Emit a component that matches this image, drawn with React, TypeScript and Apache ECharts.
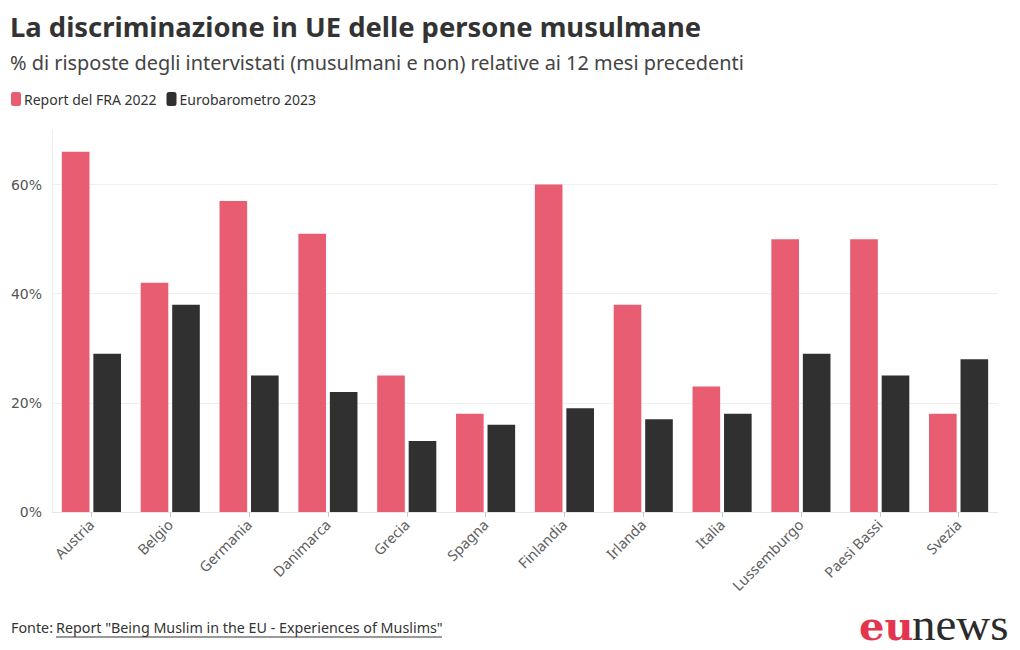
import React, { useEffect, useRef } from "react";
import * as echarts from "echarts";

const categories = ["Austria", "Belgio", "Germania", "Danimarca", "Grecia", "Spagna", "Finlandia", "Irlanda", "Italia", "Lussemburgo", "Paesi Bassi", "Svezia"];
const fra2022 = [66, 42, 57, 51, 25, 18, 60, 38, 23, 50, 50, 18];
const euro2023 = [29, 38, 25, 22, 13, 16, 19, 17, 18, 29, 25, 28];
const seriesNames = ["Report del FRA 2022", "Eurobarometro 2023"];
const titleText = "La discriminazione in UE delle persone musulmane";
const subtitleText = "% di risposte degli intervistati (musulmani e non) relative ai 12 mesi precedenti";
const sourceLabel = "Fonte: ";
const sourceLink = 'Report "Being Muslim in the EU - Experiences of Muslims"';

const FONT = "'Noto Sans', Roboto, sans-serif";

export default function App() {
  const ref = useRef<HTMLDivElement>(null);
  useEffect(() => {
    if (!ref.current) return;
    const chart = echarts.init(ref.current, undefined, { renderer: "svg" });
    chart.setOption({
      animation: false,
      backgroundColor: "#ffffff",
      textStyle: { fontFamily: FONT },
      title: [
        {
          text: titleText,
          left: 5,
          top: 8,
          textStyle: { fontSize: 27.4, fontWeight: "bold", color: "#333333", fontFamily: FONT },
        },
        {
          text: subtitleText,
          left: 5,
          top: 47,
          textStyle: { fontSize: 19.9, fontWeight: "normal", color: "#444444", fontFamily: FONT },
        },
      ],
      legend: {
        left: 6,
        top: 87,
        icon: "roundRect",
        itemWidth: 10,
        itemHeight: 14,
        itemGap: 10,
        textStyle: { fontSize: 14, color: "#333333", padding: [0, 0, 0, -2] },
        data: seriesNames,
      },
      grid: { left: 52, right: 22, top: 130, bottom: 138, containLabel: false },
      xAxis: {
        type: "category",
        data: categories,
        axisLine: { show: true, lineStyle: { color: "#e6e6e6" } },
        axisTick: { show: true, alignWithLabel: true, length: 5, lineStyle: { color: "#cccccc" } },
        axisLabel: { rotate: 45, fontSize: 14.5, color: "#606060", margin: 10, interval: 0 },
      },
      yAxis: {
        type: "value",
        min: 0,
        max: 70,
        interval: 20,
        axisLine: { show: true, lineStyle: { color: "#ececec" } },
        axisTick: { show: false },
        splitLine: { showMaxLine: false, lineStyle: { color: "#efefef" } },
        axisLabel: {
          showMaxLabel: false,
          formatter: "{value}%",
          fontSize: 14,
          color: "#555555",
          margin: 10,
          fontFamily: "'DejaVu Sans', sans-serif",
        },
      },
      series: [
        {
          name: seriesNames[0],
          type: "bar",
          data: fra2022,
          barGap: "14%",
          barCategoryGap: "25%",
          itemStyle: { color: "#e85d71" },
        },
        {
          name: seriesNames[1],
          type: "bar",
          data: euro2023,
          itemStyle: { color: "#303030" },
        },
      ],
      graphic: [
        {
          type: "text",
          left: 11,
          top: 620,
          style: { text: sourceLabel, fontSize: 14.3, fill: "#333333", fontFamily: FONT },
        },
        {
          type: "text",
          left: 56,
          top: 620,
          style: { text: sourceLink, fontSize: 14.3, fill: "#333333", fontFamily: FONT },
        },
        {
          type: "line",
          shape: { x1: 56, y1: 637, x2: 442, y2: 637 },
          style: { stroke: "#333333", lineWidth: 1 },
        },
        {
          type: "text",
          x: 859,
          y: 625,
          style: {
            text: "eu",
            fontSize: 40,
            fontWeight: "bold",
            fill: "#e4354f",
            verticalAlign: "middle",
            fontFamily: "'DejaVu Serif', serif",
          },
        },
        {
          type: "text",
          x: 912,
          y: 624,
          style: {
            text: "news",
            fontSize: 47,
            fontWeight: "normal",
            fill: "#2b2b2b",
            verticalAlign: "middle",
            fontFamily: "'Liberation Serif', serif",
          },
        },
      ],
    });
    return () => chart.dispose();
  }, []);
  return <div ref={ref} style={{ width: 1020, height: 650, position: "absolute", left: 0, top: 0 }} />;
}
